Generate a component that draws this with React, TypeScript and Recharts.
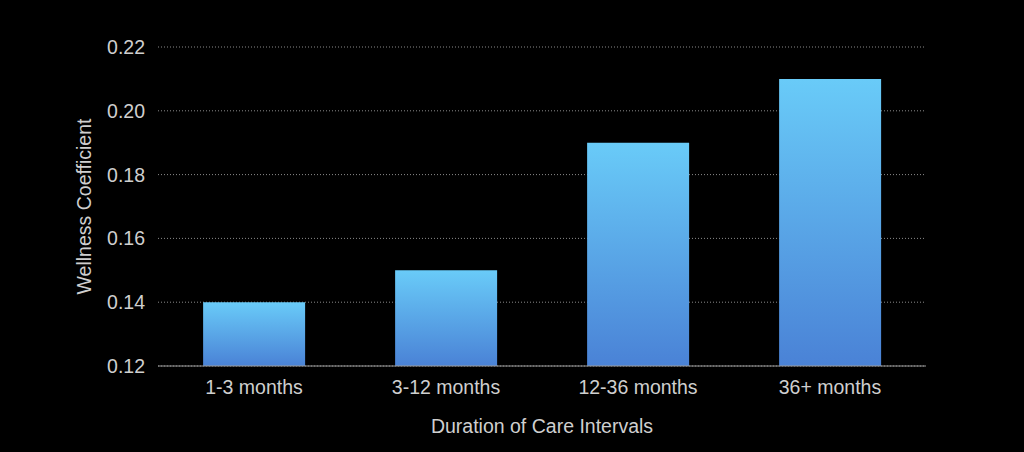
import React from "react";
import {
  BarChart,
  Bar,
  XAxis,
  YAxis,
  CartesianGrid,
} from "recharts";

const categories = ["1-3 months", "3-12 months", "12-36 months", "36+ months"];
const wellness = [0.14, 0.15, 0.19, 0.21];
const yTicks = [0.12, 0.14, 0.16, 0.18, 0.2, 0.22];

const data = categories.map((name, i) => ({ name, value: wellness[i] }));

const font = "'Liberation Sans', Arial, sans-serif";
const textColor = "#cfcfcf";

export default function App() {
  return (
    <div
      style={{
        position: "absolute",
        left: 0,
        top: 0,
        width: 1024,
        height: 452,
        background: "#000",
        fontFamily: font,
      }}
    >
      <BarChart
        width={1024}
        height={452}
        data={data}
        margin={{ top: 47, right: 98, bottom: 0, left: 0 }}
        barCategoryGap="23.5%"
      >
        <defs>
          <linearGradient id="barFill" x1="0" y1="0" x2="0" y2="1">
            <stop offset="0%" stopColor="#69CBF8" />
            <stop offset="100%" stopColor="#4A82D6" />
          </linearGradient>
        </defs>
        <CartesianGrid
          vertical={false}
          stroke="#8a8a8a"
          strokeDasharray="1 2"
        />
        <XAxis
          dataKey="name"
          height={86}
          axisLine={{ stroke: "#9a9a9a", strokeWidth: 1 }}
          tickLine={false}
          tickSize={0}
          tickMargin={14}
          tick={{ fill: textColor, fontSize: 19.5, fontFamily: font }}
          label={{
            value: "Duration of Care Intervals",
            position: "insideBottom",
            offset: 19,
            fill: textColor,
            fontSize: 19.5,
            fontFamily: font,
          }}
        />
        <YAxis
          width={158}
          domain={[0.12, 0.22]}
          ticks={yTicks}
          tickFormatter={(v: number) => v.toFixed(2)}
          axisLine={false}
          tickLine={false}
          tickSize={0}
          tickMargin={13}
          tick={{ fill: textColor, fontSize: 19.5, fontFamily: font }}
          label={{
            value: "Wellness Coefficient",
            angle: -90,
            position: "insideLeft",
            offset: 84,
            style: { textAnchor: "middle" },
            fill: textColor,
            fontSize: 19.5,
            fontFamily: font,
          }}
        />
        <Bar
          dataKey="value"
          fill="url(#barFill)"
          isAnimationActive={false}
        />
      </BarChart>
    </div>
  );
}
